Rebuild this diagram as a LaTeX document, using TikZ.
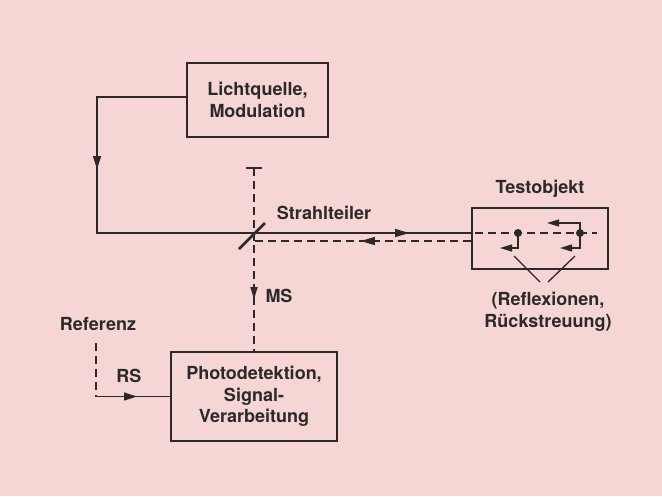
\documentclass[tikz,border=0pt]{standalone}
\usepackage{fontspec}
\setmainfont{TeX Gyre Heros}
\usetikzlibrary{arrows.meta,decorations.markings}
\definecolor{bgpink}{RGB}{245,214,212}
\definecolor{ink}{RGB}{45,40,42}
\tikzset{
  lbl/.style={font=\fontsize{18}{21.5}\selectfont\bfseries, text=ink, align=center, inner sep=0pt},
  blk/.style={draw=ink, line width=2.3pt, inner sep=0pt},
  wire/.style={draw=ink, line width=1.3pt},
  dwire/.style={draw=ink, line width=1.3pt, dash pattern=on 8pt off 5pt},
  tip/.style={-{Triangle[length=12pt,width=7pt]}},
}
\begin{document}
\begin{tikzpicture}[x=1pt,y=-1pt]
\useasboundingbox (0,0) rectangle (662,496);
\fill[bgpink] (0,0) rectangle (662,496);

% boxes
\node[blk, lbl, minimum width=141pt, minimum height=74pt] (src) at (257.5,100) {Lichtquelle,\\Modulation};
\node[blk, lbl, minimum width=166pt, minimum height=89pt] (det) at (254,396.5) {Photodetektion,\\Signal-\\Verarbeitung};
\node[blk, minimum width=136pt, minimum height=61pt] (test) at (540,238.5) {};

% labels
\node[lbl] (lstrahl) at (324,213) {Strahlteiler};
\node[lbl] (ltest) at (540,189) {Testobjekt};
\node[lbl] (lms) at (279,296) {MS};
\node[lbl] (lrefl) at (548,312) {(Reflexionen,\\Rückstreuung)};
\node[lbl] (lref) at (98,324) {Referenz};
\node[lbl] (lrs) at (129,376) {RS};

% coordinates
\coordinate (lcorner) at (97,233);
\coordinate (tick) at (254,168);
\coordinate (ret) at (254,241);
\coordinate (refstart) at (96,343);
\coordinate (refcorner) at (96,396.5);
\coordinate (d1) at (518,233);
\coordinate (d2) at (580,233);
\coordinate (din) at (475,233);
\coordinate (dout) at (597,233);

% forward beam
\draw[wire, postaction={decorate}, decoration={markings,
    mark=at position 161pt with {\arrow{Triangle[length=13pt,width=8pt]}},
    mark=at position 537pt with {\arrow{Triangle[length=14pt,width=8pt]}}}]
  ([yshift=3pt]src.west) -| (lcorner) -- (test.west |- lcorner);

% return beam
\draw[dwire, postaction={decorate}, decoration={markings,
    mark=at position 110pt with {\arrow{Triangle[length=14pt,width=8pt]}},
    mark=at position 275pt with {\arrow{Triangle[length=12pt,width=7pt]}}}]
  (test.west |- ret) -- (ret) -- (det.north);
\draw[dwire] (tick) -- (ret);
\draw[wire] ([xshift=-8pt]tick) -- ([xshift=8pt]tick);

% beam splitter
\draw[draw=ink, line width=2.8pt] (239,249) -- (265,223);

% reference
\draw[dwire] (refstart) -- (refcorner);
\draw[wire, postaction={decorate}, decoration={markings,
    mark=at position 41pt with {\arrow{Triangle[length=13pt,width=8pt]}}}]
  (refcorner) -- (det.west);

% inside test object
\draw[dwire] (din) -- (dout);
\draw[wire, tip] (d1) |- (500,248);
\draw[wire, tip] (d2) |- (547,223);
\draw[wire, tip] (d2) |- (560,248);
\fill[ink] (d1) circle (4pt);
\fill[ink] (d2) circle (4pt);

% label lines
\draw[wire] (514,256) -- (540,282);
\draw[wire] (575,256) -- (548,282);
\end{tikzpicture}
\end{document}
